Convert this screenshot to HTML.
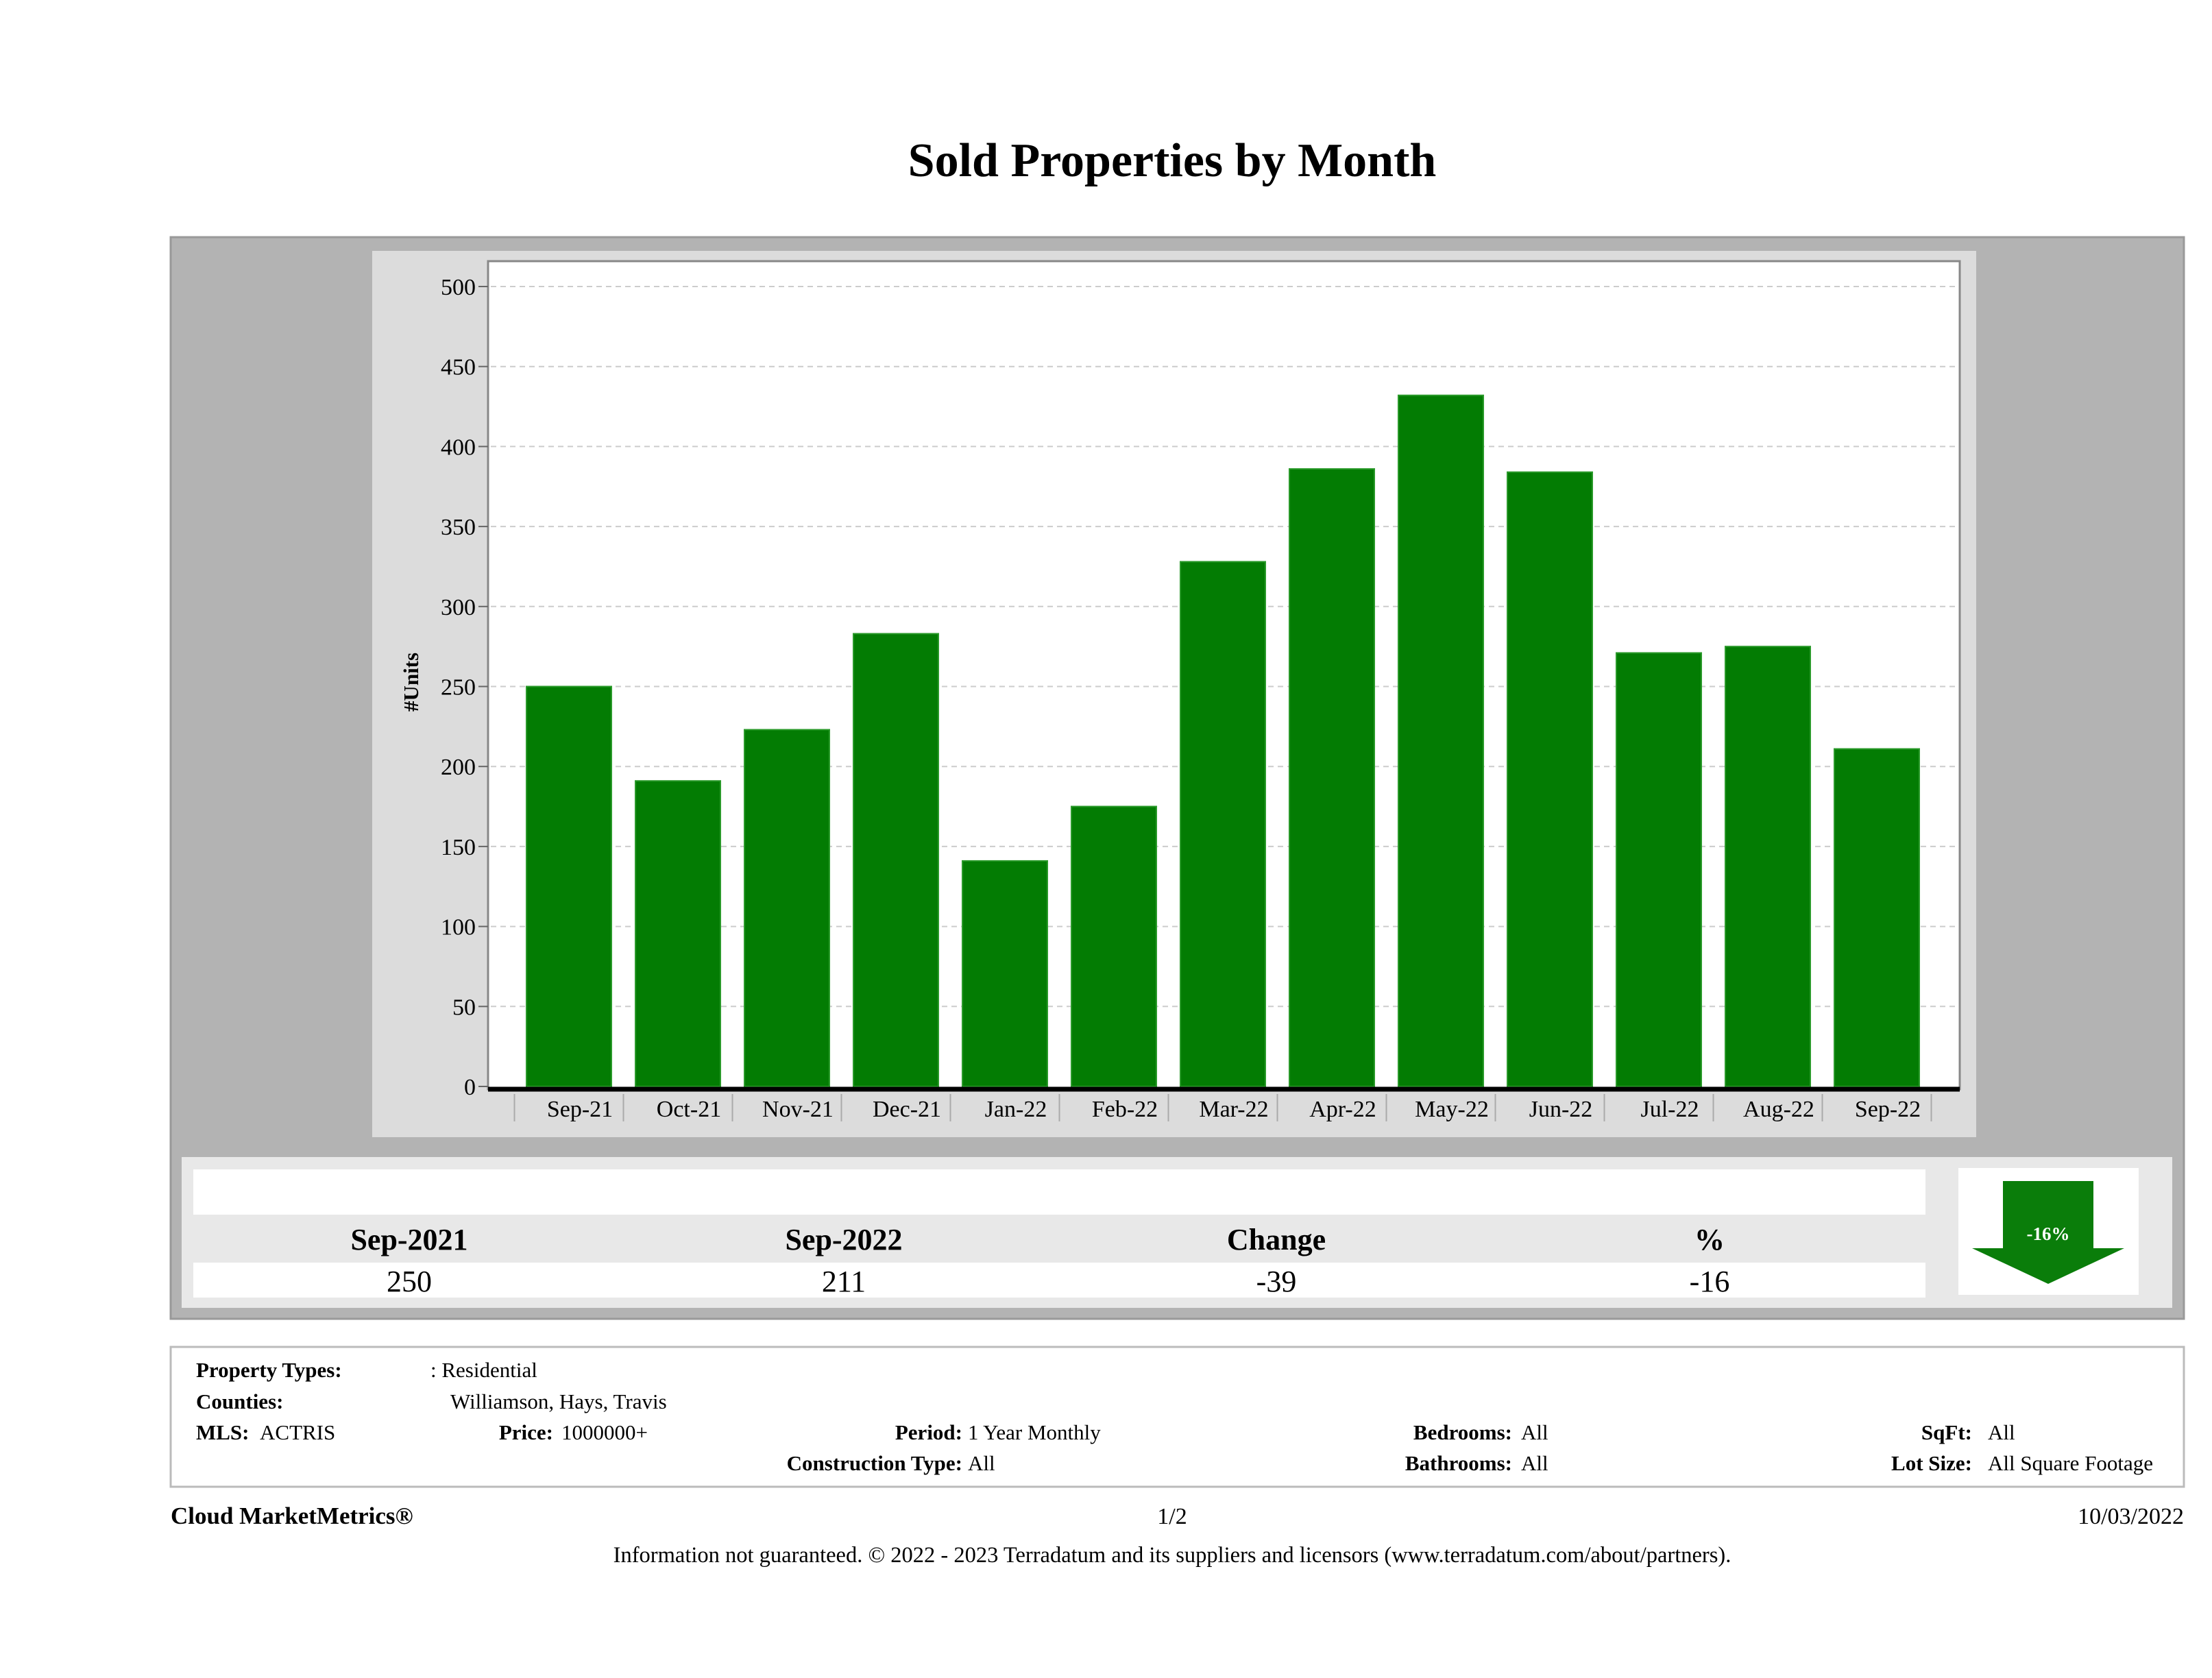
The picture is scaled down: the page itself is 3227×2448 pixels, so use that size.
<!DOCTYPE html>
<html><head><meta charset="utf-8"><style>
html,body{margin:0;padding:0;background:#fff}
svg{display:block}
text{font-family:"Liberation Serif",serif}
</style></head><body>
<svg id="root" width="3227" height="2448" xmlns="http://www.w3.org/2000/svg">
<text x="1710" y="257" text-anchor="middle" font-size="70" font-weight="bold">Sold Properties by Month</text>
<rect x="249" y="346" width="2937" height="1578" fill="#b3b3b3" stroke="#999" stroke-width="3"/>
<rect x="543" y="366" width="2340" height="1293" fill="#dcdcdc"/>
<rect x="712" y="381" width="2147" height="1208" fill="#fff" stroke="#888" stroke-width="3"/>
<g id="grid"></g><g id="bars"></g><g id="xlabels"></g>
<text transform="translate(610,995) rotate(-90)" text-anchor="middle" font-size="31" font-weight="bold">#Units</text>
<line x1="712" y1="1589" x2="2859" y2="1589" stroke="#000" stroke-width="7"/>
<rect x="265" y="1688" width="2904" height="220" fill="#e8e8e8"/>
<rect x="282" y="1706" width="2527" height="66" fill="#fff"/>
<rect x="282" y="1842" width="2527" height="51" fill="#fff"/>
<g font-size="44" text-anchor="middle">
<text x="597" y="1823" font-weight="bold">Sep-2021</text>
<text x="1231" y="1823" font-weight="bold">Sep-2022</text>
<text x="1862" y="1823" font-weight="bold">Change</text>
<text x="2494" y="1823" font-weight="bold">%</text>
<text x="597" y="1884">250</text>
<text x="1231" y="1884">211</text>
<text x="1862" y="1884">-39</text>
<text x="2494" y="1884">-16</text>
</g>
<rect x="2857" y="1704" width="263" height="185" fill="#fff"/>
<path d="M2922 1723 H3054 V1821 H3099 L2988 1873 L2877 1821 H2922 Z" fill="#0a7d0a"/>
<text x="2988" y="1809" text-anchor="middle" font-size="27" font-weight="bold" fill="#fff">-16%</text>
<rect x="249" y="1965" width="2937" height="204" fill="#fff" stroke="#bbb" stroke-width="3"/>
<g font-size="31">
<text x="286" y="2009" font-weight="bold">Property Types:</text>
<text x="628" y="2009">: Residential</text>
<text x="286" y="2055" font-weight="bold">Counties:</text>
<text x="657" y="2055">Williamson, Hays, Travis</text>
<text x="286" y="2100" font-weight="bold">MLS:</text>
<text x="379" y="2100">ACTRIS</text>
<text x="807" y="2100" font-weight="bold" text-anchor="end">Price:</text>
<text x="819" y="2100">1000000+</text>
<text x="1404" y="2100" font-weight="bold" text-anchor="end">Period:</text>
<text x="1412" y="2100">1 Year Monthly</text>
<text x="2206" y="2100" font-weight="bold" text-anchor="end">Bedrooms:</text>
<text x="2219" y="2100">All</text>
<text x="2877" y="2100" font-weight="bold" text-anchor="end">SqFt:</text>
<text x="2900" y="2100">All</text>
<text x="1404" y="2145" font-weight="bold" text-anchor="end">Construction Type:</text>
<text x="1412" y="2145">All</text>
<text x="2206" y="2145" font-weight="bold" text-anchor="end">Bathrooms:</text>
<text x="2219" y="2145">All</text>
<text x="2877" y="2145" font-weight="bold" text-anchor="end">Lot Size:</text>
<text x="2900" y="2145">All Square Footage</text>
</g>
<text x="249" y="2223" font-size="35" font-weight="bold">Cloud MarketMetrics®</text>
<text x="1710" y="2223" font-size="34" text-anchor="middle">1/2</text>
<text x="3186" y="2223" font-size="34" text-anchor="end">10/03/2022</text>
<text x="1710" y="2279" font-size="32.5" text-anchor="middle">Information not guaranteed. © 2022 - 2023 Terradatum and its suppliers and licensors (www.terradatum.com/about/partners).</text>
</svg>
<script>
const categories=["Sep-21","Oct-21","Nov-21","Dec-21","Jan-22","Feb-22","Mar-22","Apr-22","May-22","Jun-22","Jul-22","Aug-22","Sep-22"];
const soldUnits=[250,191,223,283,141,175,328,386,432,384,271,275,211];
const yTicks=[0,50,100,150,200,250,300,350,400,450,500];
const NS="http://www.w3.org/2000/svg";
function yScale(v){return 1585-v*(1585-418)/500;}
function xCenter(i){return 830+i*159;}
function mk(tag,attrs,parent){const e=document.createElementNS(NS,tag);for(const k in attrs)e.setAttribute(k,attrs[k]);parent.appendChild(e);return e;}
const grid=document.getElementById('grid'),bars=document.getElementById('bars'),xl=document.getElementById('xlabels');
yTicks.forEach(t=>{
  const y=yScale(t);
  if(t>0){const g=mk('line',{x1:716,x2:2855,y1:y,y2:y,stroke:'#ccc','stroke-width':2,'stroke-dasharray':'8 6'},grid);
  
  }
  const tk=mk('line',{x1:698,x2:712,y1:y,y2:y,stroke:'#666','stroke-width':2},grid);
  
  
  const tx=mk('text',{x:694,y:y+12,'text-anchor':'end','font-size':34},grid);
  tx.textContent=t;
  
  
});
categories.forEach((c,i)=>{
  const cx=xCenter(i),y=yScale(soldUnits[i]);
  const r=mk('rect',{x:cx-62,y:y,width:124,height:1585-y,fill:'#037c03',stroke:'#2a9a2a','stroke-width':2},bars);
  
  
  const sep=mk('line',{x1:cx-79.5,x2:cx-79.5,y1:1596,y2:1636,stroke:'#aaa','stroke-width':2},xl);
  
  
  const t=mk('text',{x:cx+16,y:1629,'text-anchor':'middle','font-size':34},xl);
  t.textContent=c;
  
  
});
const last=mk('line',{x1:xCenter(12)+79.5,x2:xCenter(12)+79.5,y1:1596,y2:1636,stroke:'#aaa','stroke-width':2},xl);


</script>
</body></html>
